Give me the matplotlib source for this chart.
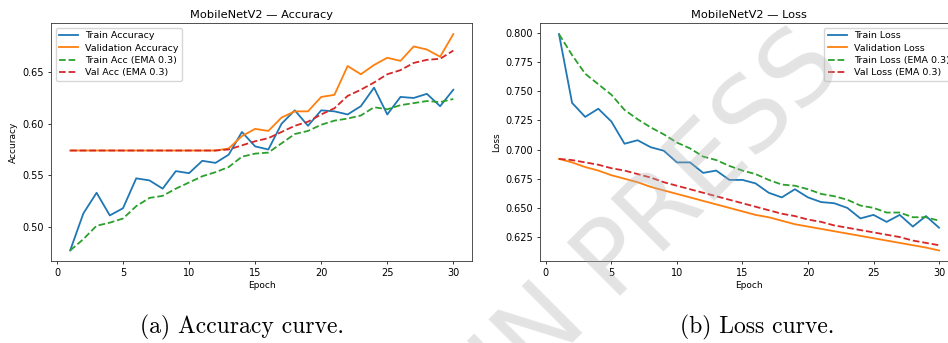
import matplotlib
matplotlib.use("Agg")
from matplotlib import pyplot as plt

# values (30 epochs)
epochs = list(range(1, 31))

train_acc = [0.477, 0.513, 0.533, 0.511, 0.518, 0.547, 0.545, 0.537, 0.554, 0.552,
             0.564, 0.562, 0.570, 0.592, 0.578, 0.575, 0.600, 0.613, 0.598, 0.613,
             0.612, 0.609, 0.617, 0.635, 0.609, 0.626, 0.625, 0.629, 0.617, 0.633]
val_acc = [0.574, 0.574, 0.574, 0.574, 0.574, 0.574, 0.574, 0.574, 0.574, 0.574,
           0.574, 0.574, 0.576, 0.588, 0.595, 0.593, 0.606, 0.612, 0.612, 0.626,
           0.628, 0.656, 0.648, 0.657, 0.664, 0.661, 0.675, 0.672, 0.665, 0.687]
train_acc_ema = [0.477, 0.488, 0.501, 0.504, 0.508, 0.520, 0.528, 0.530, 0.537, 0.543,
                 0.549, 0.553, 0.558, 0.568, 0.571, 0.572, 0.581, 0.590, 0.593, 0.599,
                 0.603, 0.605, 0.608, 0.616, 0.614, 0.618, 0.620, 0.622, 0.621, 0.624]
val_acc_ema = [0.574, 0.574, 0.574, 0.574, 0.574, 0.574, 0.574, 0.574, 0.574, 0.574,
               0.574, 0.574, 0.575, 0.579, 0.583, 0.586, 0.592, 0.598, 0.602, 0.609,
               0.615, 0.627, 0.633, 0.640, 0.648, 0.652, 0.659, 0.662, 0.663, 0.671]

train_loss = [0.799, 0.740, 0.728, 0.735, 0.724, 0.705, 0.708, 0.702, 0.699, 0.689,
              0.689, 0.680, 0.682, 0.674, 0.674, 0.671, 0.663, 0.659, 0.666, 0.659,
              0.655, 0.654, 0.650, 0.641, 0.644, 0.638, 0.644, 0.634, 0.643, 0.633]
val_loss = [0.692, 0.689, 0.685, 0.682, 0.678, 0.675, 0.672, 0.668, 0.665, 0.662,
            0.659, 0.656, 0.653, 0.650, 0.647, 0.644, 0.642, 0.639, 0.636, 0.634,
            0.632, 0.630, 0.628, 0.626, 0.624, 0.622, 0.620, 0.618, 0.616, 0.6135]
train_loss_ema = [0.799, 0.781, 0.765, 0.756, 0.747, 0.734, 0.726, 0.719, 0.713, 0.706,
                  0.701, 0.694, 0.691, 0.686, 0.682, 0.679, 0.674, 0.670, 0.669, 0.666,
                  0.662, 0.660, 0.657, 0.652, 0.650, 0.646, 0.646, 0.642, 0.642, 0.639]
val_loss_ema = [0.692, 0.691, 0.689, 0.687, 0.684, 0.682, 0.679, 0.676, 0.672, 0.669,
                0.666, 0.663, 0.660, 0.657, 0.654, 0.651, 0.648, 0.645, 0.643, 0.640,
                0.638, 0.635, 0.633, 0.631, 0.629, 0.627, 0.625, 0.622, 0.620, 0.618]

# everything is drawn at ~70% of matplotlib defaults
fs = 7
lw = 1.3
plt.rcParams['font.family'] = ['DejaVu Sans']
plt.rcParams['axes.linewidth'] = 0.6
plt.rcParams['axes.edgecolor'] = '#333333'
plt.rcParams['xtick.major.width'] = 0.55
plt.rcParams['ytick.major.width'] = 0.55
plt.rcParams['xtick.major.size'] = 2.5
plt.rcParams['ytick.major.size'] = 2.5
plt.rcParams['xtick.major.pad'] = 2.5
plt.rcParams['ytick.major.pad'] = 2.5
plt.rcParams['xtick.labelsize'] = fs
plt.rcParams['ytick.labelsize'] = fs

fig = plt.figure(figsize=(9.48, 3.43), dpi=100)
fig.patch.set_facecolor('white')

# Accuracy panel
ax1 = fig.add_axes([0.0538, 0.2382, 0.4446, 0.694])
ax1.plot(epochs, train_acc, color='C0', lw=lw, label='Train Accuracy')
ax1.plot(epochs, val_acc, color='C1', lw=lw, label='Validation Accuracy')
ax1.plot(epochs, train_acc_ema, color='C2', lw=lw, ls='--', label='Train Acc (EMA 0.3)')
ax1.plot(epochs, val_acc_ema, color='C3', lw=lw, ls='--', label='Val Acc (EMA 0.3)')
ax1.set_title('MobileNetV2 \u2014 Accuracy', fontsize=8.2, pad=4)
ax1.set_xlabel('Epoch', fontsize=6.5, labelpad=2)
ax1.set_ylabel('Accuracy', fontsize=6.5, labelpad=3)
ax1.set_xticks([0, 5, 10, 15, 20, 25, 30])
ax1.legend(loc='upper left', fontsize=6.8, handlelength=2.0, borderpad=0.35,
           labelspacing=0.35, framealpha=0.8)

# Loss panel (right edge is cut off by the page crop)
ax2 = fig.add_axes([0.5696, 0.2382, 0.441, 0.694])
ax2.plot(epochs, train_loss, color='C0', lw=lw, label='Train Loss')
ax2.plot(epochs, val_loss, color='C1', lw=lw, label='Validation Loss')
ax2.plot(epochs, train_loss_ema, color='C2', lw=lw, ls='--', label='Train Loss (EMA 0.3)')
ax2.plot(epochs, val_loss_ema, color='C3', lw=lw, ls='--', label='Val Loss (EMA 0.3)')
ax2.set_title('MobileNetV2 \u2014 Loss', fontsize=8.2, pad=4)
ax2.set_xlabel('Epoch', fontsize=6.5, labelpad=2)
ax2.set_ylabel('Loss', fontsize=6.5, labelpad=3)
ax2.set_xticks([0, 5, 10, 15, 20, 25, 30])
ax2.legend(loc='upper right', fontsize=6.8, handlelength=2.0, borderpad=0.35,
           labelspacing=0.35, framealpha=0.8)

# subfigure captions
fig.text(242 / 948, 1 - 327 / 343, '(a) Accuracy curve.', family='cmr10',
         fontsize=17, ha='center', va='center')
fig.text(757 / 948, 1 - 327 / 343, '(b) Loss curve.', family='cmr10',
         fontsize=17, ha='center', va='center')

# page watermark
fig.text(660 / 948, 1 - 215 / 343, 'IN PRESS', fontsize=74, color='#b0b0b0', alpha=0.35,
         rotation=45, ha='center', va='center', rotation_mode='anchor', zorder=10)

plt.savefig('out.png', dpi=100)
